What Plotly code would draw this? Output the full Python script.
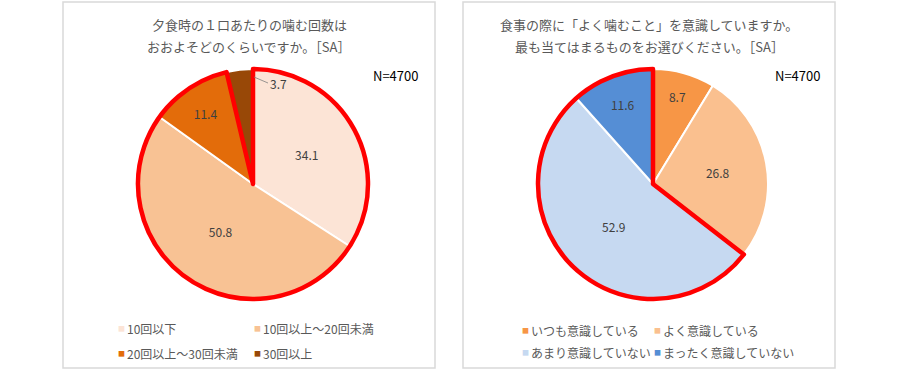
import plotly.graph_objects as go

W, H = 900, 370

# ---- data ----
left_title = ["夕食時の１口あたりの噛む回数は", "おおよそどのくらいですか。［SA］"]
left_labels = ["10回以下", "10回以上～20回未満", "20回以上～30回未満", "30回以上"]
left_values = [34.1, 50.8, 11.4, 3.7]
left_colors = ["#FCE4D6", "#F8C294", "#E36C0A", "#984807"]
left_highlight = [True, True, True, False]

right_title = ["食事の際に「よく噛むこと」を意識していますか。", "最も当てはまるものをお選びください。［SA］"]
right_labels = ["いつも意識している", "よく意識している", "あまり意識していない", "まったく意識していない"]
right_values = [8.7, 26.8, 52.9, 11.6]
right_colors = ["#F79646", "#FAC08F", "#C6D9F1", "#558ED5"]
right_highlight = [False, False, True, True]

n_label = "N=4700"

FONT = "Noto Sans CJK JP"


def px(x):
    return x / W


def py(y):
    return 1 - y / H


fig = go.Figure()

panels = [
    dict(title=left_title, labels=left_labels, values=left_values, colors=left_colors,
         hl=left_highlight, cx=253, cy=184, box=(63, 435), nx=420,
         leg_cols=(121, 257), leg_rows=(328, 353),
         callout=3),
    dict(title=right_title, labels=right_labels, values=right_values, colors=right_colors,
         hl=right_highlight, cx=653, cy=184, box=(463, 835), nx=822,
         leg_cols=(525, 657), leg_rows=(330, 352),
         callout=None),
]

R = 115
annotations = []
for p in panels:
    dom = dict(x=[px(p["cx"] - R), px(p["cx"] + R)], y=[py(p["cy"] + R), py(p["cy"] - R)])
    texts = [f"{v:.1f}" for v in p["values"]]
    if p["callout"] is not None:
        k = p["callout"]
        # small slice: label placed beside it with a leader line
        annotations.append(dict(text=texts[k], x=px(p["cx"] + 1), y=py(p["cy"] - R + 8),
                                xref="paper", yref="paper", showarrow=True, arrowhead=0,
                                arrowwidth=0.8, arrowcolor="#808080", ax=14, ay=6,
                                xanchor="left", yanchor="middle",
                                font=dict(family=FONT, size=12, color="#404040")))
        texts[k] = ""
    fig.add_trace(go.Pie(
        labels=p["labels"], values=p["values"], sort=False, direction="clockwise",
        rotation=0, domain=dom,
        marker=dict(colors=p["colors"], line=dict(color="white", width=2)),
        text=texts, textinfo="text", textposition="inside",
        insidetextorientation="horizontal",
        textfont=dict(family=FONT, size=12, color="#404040"),
        showlegend=False, hoverinfo="skip",
    ))
    # red outline around highlighted group (built from the same values)
    grp_vals, grp_line_w, grp_line_c = [], [], []
    cur = None
    for v, h in zip(p["values"], p["hl"]):
        if h == cur:
            grp_vals[-1] += v
        else:
            grp_vals.append(v)
            grp_line_w.append(4.5 if h else 0)
            grp_line_c.append("#FF0000" if h else "rgba(0,0,0,0)")
            cur = h
    fig.add_trace(go.Pie(
        values=grp_vals, labels=[f"g{i}" for i in range(len(grp_vals))],
        sort=False, direction="clockwise", rotation=0, domain=dom,
        marker=dict(colors=["rgba(0,0,0,0)"] * len(grp_vals),
                    line=dict(color=grp_line_c, width=grp_line_w)),
        textinfo="none", showlegend=False, hoverinfo="skip",
    ))

shapes = []
for p in panels:
    x0, x1 = p["box"]
    shapes.append(dict(type="rect", xref="paper", yref="paper",
                       x0=px(x0), x1=px(x1), y0=py(368), y1=py(2),
                       line=dict(color="#D9D9D9", width=1.5), fillcolor="rgba(0,0,0,0)"))
    tcx = (x0 + x1) / 2
    for i, line in enumerate(p["title"]):
        annotations.append(dict(text=line, x=px(tcx), y=py(24 + 22 * i), xref="paper", yref="paper",
                                showarrow=False, xanchor="center", yanchor="middle",
                                font=dict(family=FONT, size=13, color="#595959")))
    annotations.append(dict(text=n_label, x=px(p["nx"]), y=py(75), xref="paper", yref="paper",
                            showarrow=False, xanchor="right", yanchor="middle",
                            font=dict(family=FONT, size=13, color="#000000")))
    for k, (lab, col) in enumerate(zip(p["labels"], p["colors"])):
        cx = p["leg_cols"][k % 2]
        ry = p["leg_rows"][k // 2]
        annotations.append(dict(text="■", x=px(cx), y=py(ry), xref="paper", yref="paper",
                                showarrow=False, xanchor="center", yanchor="middle",
                                font=dict(family=FONT, size=7, color=col)))
        annotations.append(dict(text=lab, x=px(cx + 4), y=py(ry), xref="paper", yref="paper",
                                showarrow=False, xanchor="left", yanchor="middle",
                                font=dict(family=FONT, size=12, color="#595959")))

fig.update_layout(
    width=W, height=H, margin=dict(l=0, r=0, t=0, b=0),
    paper_bgcolor="white", plot_bgcolor="white",
    shapes=shapes, annotations=annotations,
)

fig.write_html("out.html", config={"displayModeBar": False},
               post_script="document.body.style.margin='0';")
